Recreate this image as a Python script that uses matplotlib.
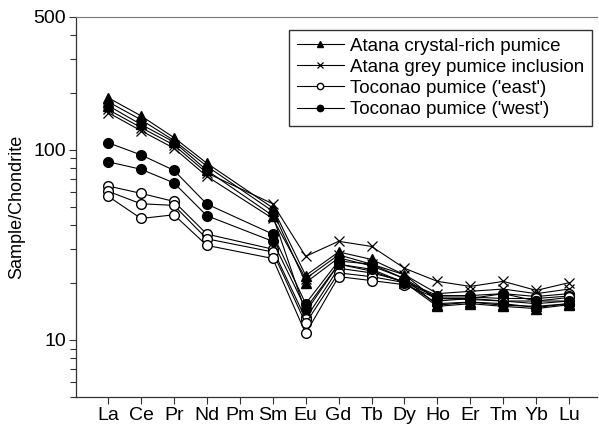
import matplotlib
matplotlib.use("Agg")
import matplotlib.pyplot as plt
import numpy as np
from matplotlib.ticker import LogLocator, NullFormatter

plt.rcParams['font.family'] = ['Liberation Sans', 'DejaVu Sans']

elements = ['La', 'Ce', 'Pr', 'Nd', 'Pm', 'Sm', 'Eu', 'Gd', 'Tb', 'Dy', 'Ho', 'Er', 'Tm', 'Yb', 'Lu']
nan = np.nan

# Atana crystal-rich pumice (triangles)
atana_crystal = [
    [188, 151, 116, 85, nan, 49.5, 21.8, 29.0, 26.5, 22.0, 16.0, 16.5, 16.0, 15.5, 16.0],
    [179, 144, 112, 82, nan, 47.5, 20.0, 27.0, 24.5, 21.0, 15.2, 15.8, 15.2, 15.0, 15.5],
    [171, 136, 110, 78, nan, 45.0, 14.0, 25.0, 23.0, 20.0, 15.0, 15.5, 15.0, 14.6, 15.3],
]
# Atana grey pumice inclusion (crosses)
atana_grey = [
    [163, 131, 106, 75.5, nan, 52.0, 27.5, 33.0, 31.0, 23.8, 20.3, 19.1, 20.3, 18.2, 20.0],
    [157, 126, 102, 72.5, nan, 43.5, 21.0, 28.0, 25.0, 22.0, 17.5, 18.0, 18.5, 17.5, 18.5],
]
# Toconao pumice ('east') (open circles)
toconao_east = [
    [64.5, 59.0, 53.5, 36.0, nan, 30.0, 12.9, 23.8, 22.5, 20.3, 17.1, 17.1, 17.5, 16.9, 17.5],
    [60.5, 52.0, 51.0, 34.0, nan, 29.0, 12.2, 22.5, 21.5, 20.0, 16.8, 16.8, 16.5, 16.5, 17.0],
    [57.0, 43.5, 45.5, 31.4, nan, 26.8, 10.8, 21.5, 20.5, 19.5, 16.5, 16.3, 16.0, 16.0, 16.7],
]
# Toconao pumice ('west') (filled circles)
toconao_west = [
    [109, 94, 78, 51.8, nan, 36.0, 15.5, 26.0, 25.0, 21.0, 16.5, 16.5, 17.5, 16.0, 16.0],
    [86.5, 79, 67, 45.0, nan, 33.0, 14.6, 25.0, 23.5, 20.0, 15.5, 15.8, 15.5, 14.8, 15.5],
]

groups = [
    (atana_crystal, 'Atana crystal-rich pumice', dict(marker='^', mfc='black', ms=6.5)),
    (atana_grey, 'Atana grey pumice inclusion', dict(marker='x', mfc='black', ms=6.5, mew=0.9)),
    (toconao_east, "Toconao pumice ('east')", dict(marker='o', mfc='white', ms=7)),
    (toconao_west, "Toconao pumice ('west')", dict(marker='o', mfc='black', ms=7)),
]

fig = plt.figure(figsize=(5.99, 4.30), dpi=100)
ax = fig.add_axes([0.127, 0.0767, 0.870, 0.8838])

x = np.arange(len(elements))
for samples, label, style in groups:
    for i, s in enumerate(samples):
        s = np.array(s, dtype=float)
        ok = np.isfinite(s)
        ax.plot(x[ok], s[ok], color='black', lw=0.8, mec='black',
                label=label if i == 0 else None, **style)

ax.set_yscale('log')
ax.set_ylim(5, 500)
ax.set_xlim(-0.97, 14.85)
ax.set_yticks([10, 100, 500])
ax.set_yticklabels(['10', '100', '500'])
ax.yaxis.set_minor_locator(LogLocator(base=10, subs=np.arange(2, 10)))
ax.yaxis.set_minor_formatter(NullFormatter())
ax.set_xticks(x)
ax.set_xticklabels(elements)
ax.tick_params(axis='both', which='major', direction='out', length=5, width=0.8,
               labelsize=14, color='#333333')
ax.tick_params(axis='y', which='minor', direction='out', length=4, width=0.8, color='#333333')
ax.tick_params(axis='x', pad=2)
ax.tick_params(axis='y', pad=2)
ax.set_ylabel('Sample/Chondrite', fontsize=13, labelpad=6)

ax.spines['right'].set_visible(False)
ax.spines['top'].set_linestyle((0, (1, 1)))
ax.spines['top'].set_color('#777777')
ax.spines['top'].set_linewidth(0.8)
for side in ['left', 'bottom']:
    ax.spines[side].set_color('#333333')
    ax.spines[side].set_linewidth(0.9)

leg = ax.legend(loc='upper right', bbox_to_anchor=(0.99, 0.966), borderaxespad=0,
                fontsize=13.5, frameon=True, fancybox=False, markerscale=0.65,
                handlelength=2.5, handletextpad=0.35, labelspacing=0.22,
                borderpad=0.4)
leg.get_frame().set_edgecolor('black')
leg.get_frame().set_linewidth(1.0)

plt.savefig('out.png', dpi=100)
